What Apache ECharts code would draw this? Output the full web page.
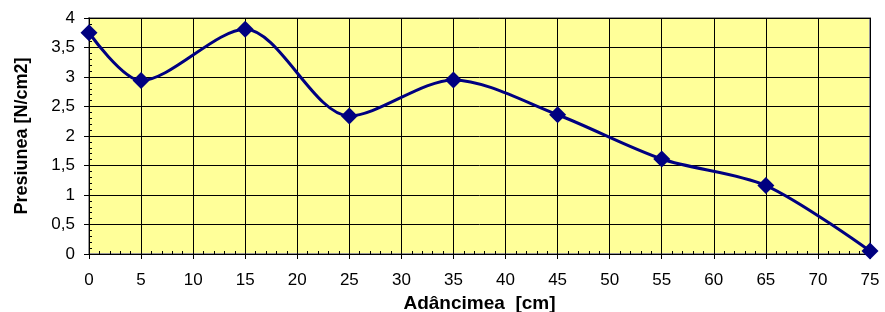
<!DOCTYPE html>
<html>
<head>
<meta charset="utf-8">
<script src="https://cdn.jsdelivr.net/npm/echarts@6/dist/echarts.min.js"></script>
<style>
  html, body { margin: 0; padding: 0; background: #fff; }
  #chart { width: 885px; height: 312px; }
</style>
</head>
<body>
<div id="chart"></div>
<script>
// adancime (cm) si presiune (N/cm2)
const depthCm = [0, 5, 15, 25, 35, 45, 55, 65, 75]
const pressure = [3.75, 2.94, 3.81, 2.34, 2.95, 2.36, 1.61, 1.16, 0.05]

const font = '"Liberation Sans", Arial, sans-serif'
const comma = (v) => String(v).replace('.', ',')

let myChart = echarts.init(document.getElementById('chart'))

let option = {
  animation: false,
  grid: {
    left: 89,
    right: 15,
    top: 18,
    bottom: 58,
    containLabel: false,
    outerBoundsMode: 'none',
    show: true,
    backgroundColor: '#ffff99',
    borderColor: '#999',
    borderWidth: 2,
  },
  xAxis: [
    {
      type: 'value',
      min: 0,
      max: 75,
      interval: 5,
      name: 'Adâncimea  [cm]',
      nameLocation: 'middle',
      nameGap: 35,
      nameTextStyle: { fontFamily: font, fontSize: 19, fontWeight: 'bold', color: '#000' },
      axisLine: { lineStyle: { color: '#000', width: 1 } },
      axisTick: { show: true, length: 5, lineStyle: { color: '#000' } },
      axisLabel: { fontFamily: font, fontSize: 17, color: '#000', margin: 18 },
      splitLine: { show: true, lineStyle: { color: '#000', width: 1 } },
    },
    {
      // tickuri mici in interior
      type: 'value',
      position: 'bottom',
      min: 0,
      max: 75,
      interval: 1,
      axisLine: { show: false },
      axisTick: { show: true, inside: true, length: 3, lineStyle: { color: '#000' } },
      axisLabel: { show: false },
      splitLine: { show: false },
    },
  ],
  yAxis: [
    {
      type: 'value',
      min: 0,
      max: 4,
      interval: 0.5,
      name: 'Presiunea [N/cm2]',
      nameLocation: 'middle',
      nameGap: 58,
      nameTextStyle: { fontFamily: font, fontSize: 18, fontWeight: 'bold', color: '#000' },
      axisLine: { show: true, lineStyle: { color: '#000', width: 1 } },
      axisTick: { show: true, length: 5, lineStyle: { color: '#000' } },
      axisLabel: { fontFamily: font, fontSize: 17, color: '#000', margin: 14, formatter: comma },
      splitLine: { show: true, lineStyle: { color: '#000', width: 1 } },
    },
    {
      type: 'value',
      position: 'left',
      min: 0,
      max: 4,
      interval: 0.1,
      axisLine: { show: false },
      axisTick: { show: true, inside: true, length: 3, lineStyle: { color: '#000' } },
      axisLabel: { show: false },
      splitLine: { show: false },
    },
  ],
  series: [
    {
      type: 'line',
      xAxisIndex: 0,
      yAxisIndex: 0,
      data: depthCm.map((d, i) => [d, pressure[i]]),
      smooth: 0.3,
      symbol: 'diamond',
      symbolSize: 17,
      lineStyle: { color: '#000080', width: 3 },
      itemStyle: { color: '#000080' },
    },
  ],
}
myChart.setOption(option)
</script>
</body>
</html>
